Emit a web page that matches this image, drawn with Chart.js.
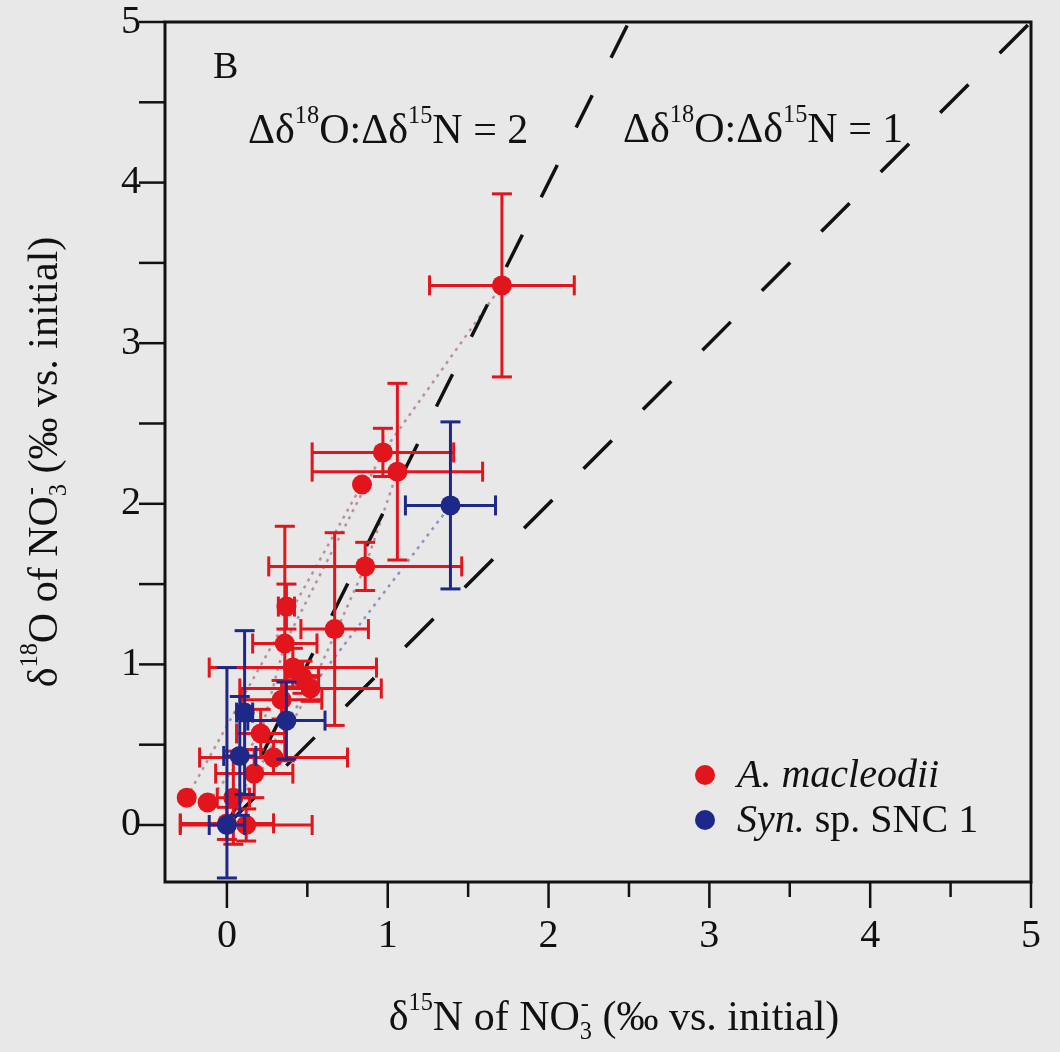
<!DOCTYPE html>
<html>
<head>
<meta charset="utf-8">
<script src="https://cdn.jsdelivr.net/npm/chart.js@4.4.1/dist/chart.umd.min.js"></script>
<style>
  html, body { margin: 0; padding: 0; background: #e8e8e8; }
  #wrap { width: 1060px; height: 1052px; }
</style>
</head>
<body>
<div id="wrap"><canvas id="c" width="1060" height="1052"></canvas></div>
<script>
// --- data (delta values, permil vs. initial) ---
// A. macleodii
const redX    = [1.71, 0.97, 1.06, 0.84, 0.86, 0.37, 0.36, 0.67, 0.41, 0.47, 0.52, 0.34, 0.21, 0.29, 0.17, 0.04, -0.12, -0.25, 0.00, 0.12];
const redY    = [3.36, 2.32, 2.20, 2.12, 1.61, 1.36, 1.13, 1.22, 0.98, 0.92, 0.85, 0.78, 0.57, 0.42, 0.32, 0.17, 0.14, 0.17, 0.01, 0.00];
const redXErr = [0.45, 0.44, 0.53, 0, 0.60, 0.05, 0.20, 0.21, 0.52, 0.10, 0.44, 0.25, 0.15, 0.46, 0.24, 0.10, 0, 0, 0.29, 0.41];
const redYErr = [0.57, 0.15, 0.55, 0, 0.15, 0.14, 0.73, 0.60, 0.12, 0.10, 0.08, 0.12, 0.15, 0.10, 0.15, 0.29, 0, 0, 0.10, 0.10];

// Syn. sp. SNC 1  (yErr may be [minus, plus])
const blueX    = [0.00, 0.08, 0.11, 0.37, 1.39];
const blueY    = [0.00, 0.43, 0.70, 0.65, 1.99];
const blueXErr = [0.11, 0.10, 0.05, 0.24, 0.28];
const blueYErr = [[0.33, 0.98], 0.37, 0.51, 0.24, 0.52];

// dotted trails (indices into the arrays above)
const redTrails  = [[17, 3], [16, 12, 6, 1, 0], [15, 13, 10, 4, 2]];
const blueTrails = [[0, 3, 4]];

// reference lines  d18O:d15N = 2 and = 1
const ref2X = [0, 2.5], ref2Y = [0, 5];
const ref1X = [0, 5],   ref1Y = [0, 5];

// axes
const xTicks = [0, 1, 2, 3, 4, 5];
const yTicks = [0, 1, 2, 3, 4, 5];
const xMinor = [0.5, 1.5, 2.5, 3.5, 4.5];
const yMinor = [0.5, 1.5, 2.5, 3.5, 4.5];

const SERIF = '"Liberation Serif", "Times New Roman", serif';
const RED = '#e2141c';
const BLUE = '#1e2888';
const INK = '#111111';

function pts(xs, ys) { return xs.map((x, i) => ({ x: x, y: ys[i] })); }
function trail(xs, ys, idx) { return idx.map(i => ({ x: xs[i], y: ys[i] })); }

// draws rich text: parts = [[text, kind]], kind: n, i, sup, sub, stack ([sub, sup])
function richText(ctx, x, y, parts, size, align) {
  const small = size * 0.58;
  function font(sz, it) { return (it ? 'italic ' : '') + sz + 'px ' + SERIF; }
  function widthOf(p) {
    const k = p[1];
    if (k === 'stack') {
      ctx.font = font(small);
      return Math.max(ctx.measureText(p[0][0]).width, ctx.measureText(p[0][1]).width);
    }
    ctx.font = (k === 'sup' || k === 'sub') ? font(small) : font(size, k === 'i');
    return ctx.measureText(p[0]).width;
  }
  let total = 0;
  parts.forEach(p => total += widthOf(p));
  let cx = align === 'center' ? x - total / 2 : (align === 'right' ? x - total : x);
  ctx.textAlign = 'left';
  ctx.textBaseline = 'alphabetic';
  parts.forEach(p => {
    const k = p[1], w = widthOf(p);
    if (k === 'stack') {
      ctx.font = font(small);
      ctx.fillText(p[0][0], cx, y + size * 0.22);
      ctx.fillText(p[0][1], cx + 1, y - size * 0.45);
    } else if (k === 'sup') {
      ctx.font = font(small);
      ctx.fillText(p[0], cx, y - size * 0.48);
    } else if (k === 'sub') {
      ctx.font = font(small);
      ctx.fillText(p[0], cx, y + size * 0.22);
    } else {
      ctx.font = font(size, k === 'i');
      ctx.fillText(p[0], cx, y);
    }
    cx += w;
  });
}

const errorBars = {
  id: 'errorBars',
  beforeDatasetDraw(chart, args) {
    const ds = chart.data.datasets[args.index];
    if (!ds.errX) return;
    const xs = chart.scales.x, ys = chart.scales.y, ctx = chart.ctx;
    const cap = 10;
    ctx.save();
    ctx.strokeStyle = ds.borderColor;
    ctx.lineWidth = 3;
    function seg(a, b, c, d) { ctx.beginPath(); ctx.moveTo(a, b); ctx.lineTo(c, d); ctx.stroke(); }
    ds.data.forEach((p, i) => {
      const px = xs.getPixelForValue(p.x), py = ys.getPixelForValue(p.y);
      const ex = ds.errX[i], ey = ds.errY[i];
      const lo = Array.isArray(ey) ? ey[0] : ey, hi = Array.isArray(ey) ? ey[1] : ey;
      if (ex > 0) {
        const a = xs.getPixelForValue(p.x - ex), b = xs.getPixelForValue(p.x + ex);
        seg(a, py, b, py);
        seg(a, py - cap, a, py + cap);
        seg(b, py - cap, b, py + cap);
      }
      if (lo > 0 || hi > 0) {
        const a = ys.getPixelForValue(p.y + hi), b = ys.getPixelForValue(p.y - lo);
        seg(px, a, px, b);
        seg(px - cap, a, px + cap, a);
        seg(px - cap, b, px + cap, b);
      }
    });
    ctx.restore();
  }
};

const frameAndText = {
  id: 'frameAndText',
  afterDraw(chart) {
    const ctx = chart.ctx, a = chart.chartArea;
    const xs = chart.scales.x, ys = chart.scales.y;
    ctx.save();
    ctx.strokeStyle = INK;
    ctx.fillStyle = INK;
    ctx.lineWidth = 3;
    ctx.strokeRect(a.left, a.top, a.right - a.left, a.bottom - a.top);

    // tick marks
    ctx.lineWidth = 2.5;
    function seg(x1, y1, x2, y2) { ctx.beginPath(); ctx.moveTo(x1, y1); ctx.lineTo(x2, y2); ctx.stroke(); }
    xTicks.forEach(v => { const p = xs.getPixelForValue(v); seg(p, a.bottom, p, a.bottom + 26); });
    xMinor.forEach(v => { const p = xs.getPixelForValue(v); seg(p, a.bottom, p, a.bottom + 15); });
    yTicks.forEach(v => { const p = ys.getPixelForValue(v); seg(a.left, p, a.left - 26, p); });
    yMinor.forEach(v => { const p = ys.getPixelForValue(v); seg(a.left, p, a.left - 26, p); });

    // panel letter and ratio labels
    ctx.font = '38px ' + SERIF;
    ctx.textAlign = 'left';
    ctx.textBaseline = 'alphabetic';
    ctx.fillText('B', 213, 78);
    richText(ctx, 248, 143, [['Δδ', 'n'], ['18', 'sup'], ['O:Δδ', 'n'], ['15', 'sup'], ['N = 2', 'n']], 42, 'left');
    richText(ctx, 623, 142, [['Δδ', 'n'], ['18', 'sup'], ['O:Δδ', 'n'], ['15', 'sup'], ['N = 1', 'n']], 42, 'left');

    // axis titles
    richText(ctx, 614, 1030, [['δ', 'n'], ['15', 'sup'], ['N of NO', 'n'], [['3', '-'], 'stack'], [' (‰ vs. initial)', 'n']], 42, 'center');
    ctx.save();
    ctx.translate(57, 462);
    ctx.rotate(-Math.PI / 2);
    richText(ctx, 0, 0, [['δ', 'n'], ['18', 'sup'], ['O of NO', 'n'], [['3', '-'], 'stack'], [' (‰ vs. initial)', 'n']], 42, 'center');
    ctx.restore();

    // legend
    [[RED, 775, [['A. macleodii', 'i']]], [BLUE, 820, [['Syn.', 'i'], [' sp. SNC 1', 'n']]]].forEach(r => {
      ctx.fillStyle = r[0];
      ctx.beginPath();
      ctx.arc(705, r[1], 10, 0, Math.PI * 2);
      ctx.fill();
      ctx.fillStyle = INK;
      richText(ctx, 737, r[1] + 12, r[2], 40, 'left');
    });
    ctx.restore();
  }
};

const trailSets = [];
redTrails.forEach(t => trailSets.push({
  type: 'scatter', showLine: true, data: trail(redX, redY, t),
  borderColor: 'rgba(180,140,150,0.95)', borderWidth: 2.5, borderDash: [3, 5],
  pointRadius: 0, fill: false, order: 5
}));
blueTrails.forEach(t => trailSets.push({
  type: 'scatter', showLine: true, data: trail(blueX, blueY, t),
  borderColor: 'rgba(140,140,185,0.95)', borderWidth: 2.5, borderDash: [3, 5],
  pointRadius: 0, fill: false, order: 5
}));

function noOverflow(s) { s.paddingTop = 0; s.paddingBottom = 0; s.paddingLeft = 0; s.paddingRight = 0; }

new Chart(document.getElementById('c'), {
  type: 'scatter',
  data: {
    datasets: [
      { label: 'Syn. sp. SNC 1', data: pts(blueX, blueY), backgroundColor: BLUE, borderColor: BLUE,
        pointRadius: 10, pointBorderWidth: 0, errX: blueXErr, errY: blueYErr, order: 1 },
      { label: 'A. macleodii', data: pts(redX, redY), backgroundColor: RED, borderColor: RED,
        pointRadius: 10, pointBorderWidth: 0, errX: redXErr, errY: redYErr, order: 2 },
      { label: 'ratio 2', showLine: true, data: pts(ref2X, ref2Y), borderColor: INK, borderWidth: 3.5,
        borderDash: [36, 42], pointRadius: 0, fill: false, order: 3 },
      { label: 'ratio 1', showLine: true, data: pts(ref1X, ref1Y), borderColor: INK, borderWidth: 3.5,
        borderDash: [40, 44], pointRadius: 0, fill: false, order: 3 }
    ].concat(trailSets)
  },
  options: {
    responsive: false,
    animation: false,
    devicePixelRatio: 1,
    layout: { padding: { top: 22, right: 29, left: 0, bottom: 0 } },
    plugins: { legend: { display: false }, tooltip: { enabled: false } },
    scales: {
      x: {
        type: 'linear', min: -0.385, max: 5,
        grid: { display: false, drawTicks: false }, border: { display: false },
        afterBuildTicks: s => { s.ticks = xTicks.map(v => ({ value: v })); },
        afterFit: s => { s.height = 170; noOverflow(s); },
        ticks: { color: INK, padding: 30, font: { family: SERIF, size: 40 }, callback: v => String(v) }
      },
      y: {
        type: 'linear', min: -0.355, max: 5,
        grid: { display: false, drawTicks: false }, border: { display: false },
        afterBuildTicks: s => { s.ticks = yTicks.map(v => ({ value: v })); },
        afterFit: s => { s.width = 165; noOverflow(s); },
        ticks: { color: INK, padding: 24, font: { family: SERIF, size: 40 }, callback: v => String(v) }
      }
    }
  },
  plugins: [errorBars, frameAndText]
});
</script>
</body>
</html>
